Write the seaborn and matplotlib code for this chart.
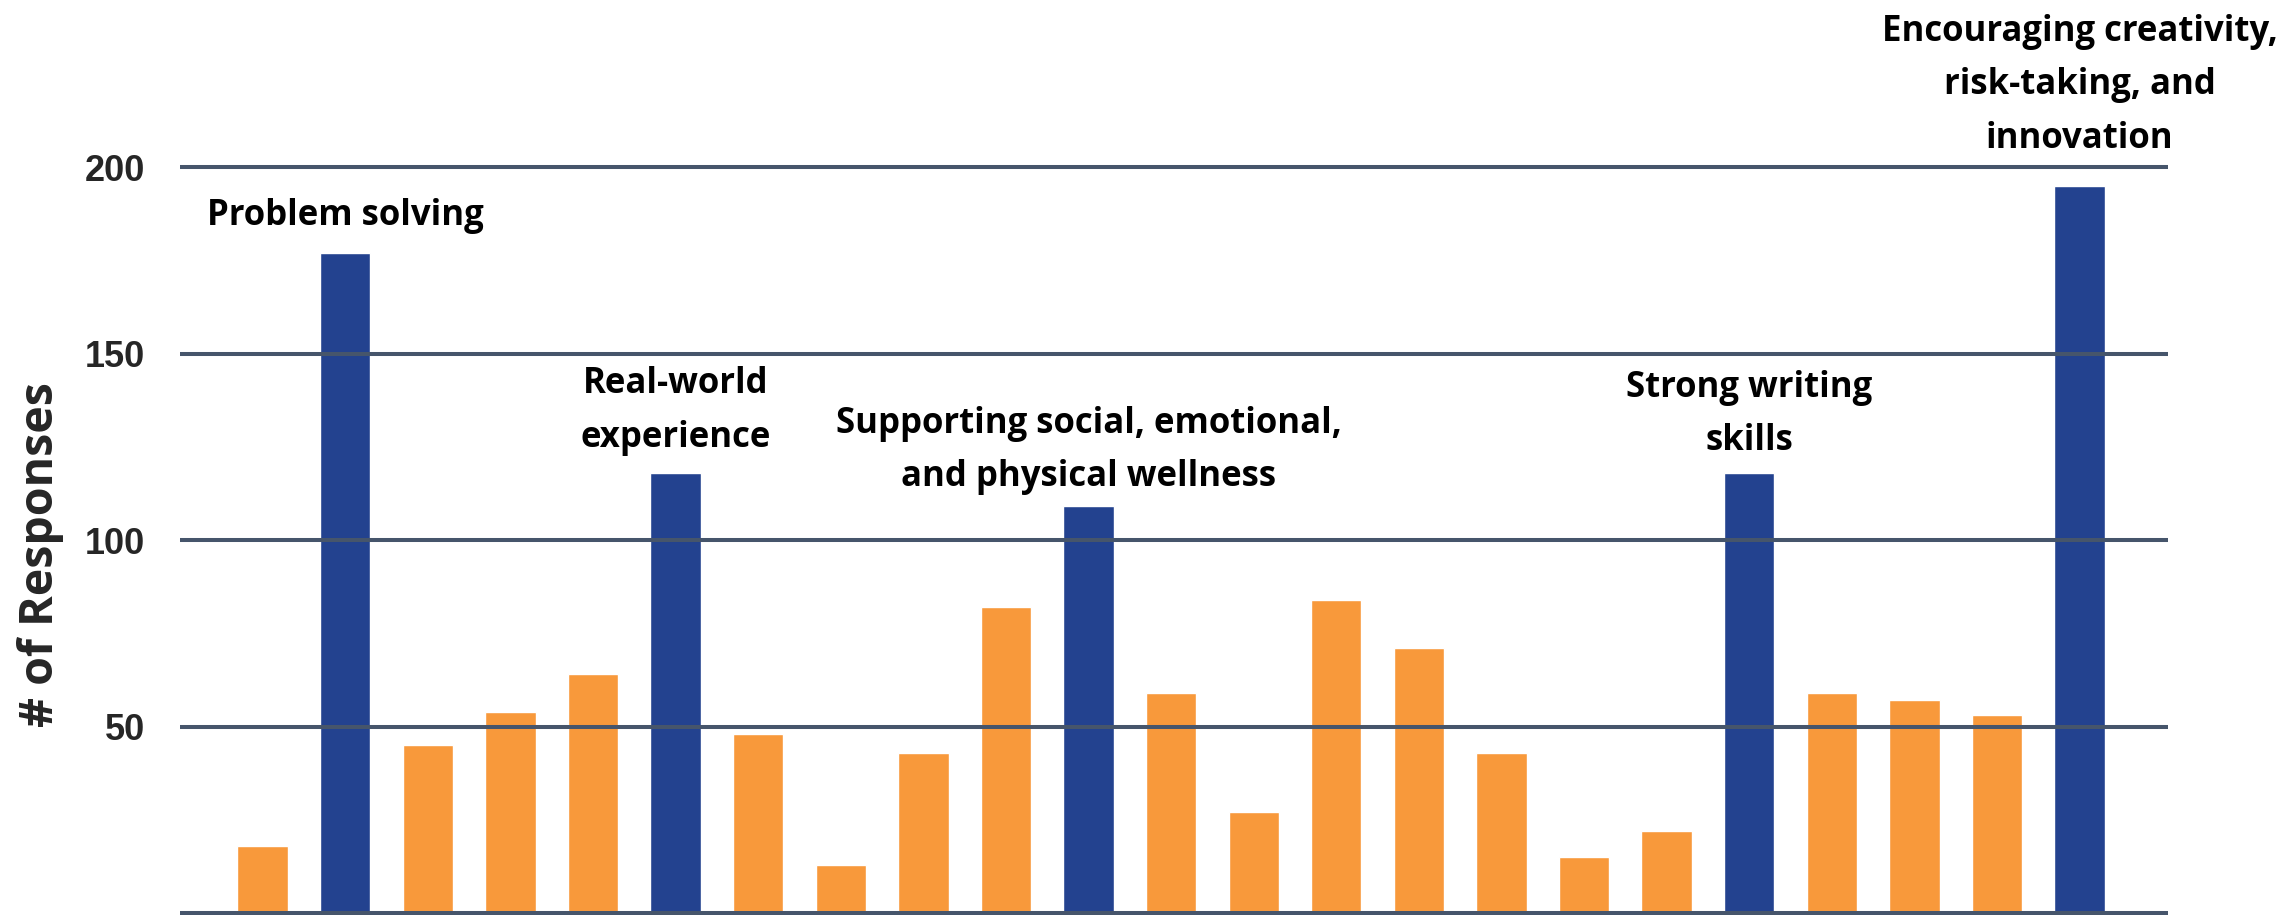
import pandas as pd
import matplotlib
matplotlib.use('Agg')
import matplotlib.pyplot as plt
import seaborn as sns

# Responses per category (left to right)
values = [18, 177, 45, 54, 64, 118, 48, 13, 43, 82, 109, 59,
          27, 84, 71, 43, 15, 22, 118, 59, 57, 53, 195]

# Only the highlighted categories carry a label on the chart
labels = ['', 'Problem solving', '', '', '', 'Real-world\nexperience', '', '', '', '',
          'Supporting social, emotional,\nand physical wellness', '', '', '', '', '', '', '',
          'Strong writing\nskills', '', '', '',
          'Encouraging creativity,\nrisk-taking, and\ninnovation']

y_ticks = [0, 50, 100, 150, 200]
y_tick_labels = ['', '50', '100', '150', '200']

BLUE = '#23428F'
ORANGE = '#F8993B'
GRID = '#46556B'

# gap (points) between bar top and its label
label_pad = {1: 13.5, 5: 12.5, 10: 8, 18: 10, 22: 21}

df = pd.DataFrame({'idx': range(len(values)), 'value': values, 'label': labels})
df['group'] = df['label'].apply(lambda s: 'top' if s else 'other')

sns.set_theme(style='white')
plt.rcParams['font.family'] = ['Open Sans', 'DejaVu Sans']

W, H = 2283, 915
fig = plt.figure(figsize=(W / 100, H / 100), dpi=100)
ax = fig.add_axes([180 / W, 0, (2168 - 180) / W, 1])

sns.barplot(data=df, x='idx', y='value', hue='group',
            palette={'top': BLUE, 'other': ORANGE},
            dodge=False, width=0.61, saturation=1, legend=False, ax=ax)

ax.set_xlim(-1.0, len(values) - 1 + 1.07)
ax.set_ylim(-0.54, 244.8)
ax.set_yticks(y_ticks)
ax.set_yticklabels(y_tick_labels, fontsize=26, fontweight='bold',
                   family=['Liberation Sans', 'DejaVu Sans'])
ax.set_xticks([])
ax.set_xlabel('')
ax.set_ylabel('# of Responses', fontsize=33.5, fontweight='bold')
ax.yaxis.set_label_coords(-(180 - 64) / (2168 - 180), (915 - 555) / 915)
ax.tick_params(axis='y', length=0, pad=25)

ax.set_axisbelow(False)
ax.yaxis.grid(True, color=GRID, linewidth=2.9)
for s in ax.spines.values():
    s.set_visible(False)

for i, row in df.iterrows():
    if row['label']:
        ax.annotate(row['label'], xy=(row['idx'], row['value']),
                    xytext=(0, label_pad[i]), textcoords='offset points',
                    ha='center', va='bottom', fontsize=25, fontweight='bold',
                    linespacing=1.64, color='black')

fig.savefig('out.png', dpi=100)
